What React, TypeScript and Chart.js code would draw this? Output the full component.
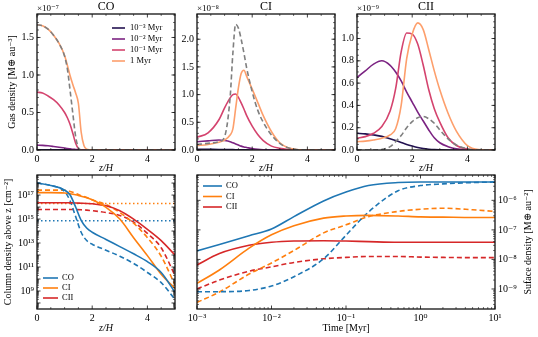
import React, { useEffect, useRef } from "react";
import { Chart, registerables } from "chart.js";

Chart.register(...registerables);

const W = 538;
const H = 337;
const SERIF = "'Liberation Serif', 'DejaVu Serif', 'Times New Roman', serif";

// ---------------- Data ----------------
// Top row: gas density vs z/H
const Z_CO = [0, 0.2, 0.4, 0.6, 0.8, 1.0, 1.1, 1.2, 1.3, 1.4, 1.5, 1.6, 1.7, 1.8, 2.0, 3.0, 5.0];
const CO_GAS_1E3 = [0.004, 0.004, 0.004, 0.003, 0.003, 0.002, 0.002, 0.001, 0.001, 0.001, 0, 0, 0, 0, 0, 0, 0];
const CO_GAS_1E2 = [0.065, 0.062, 0.056, 0.047, 0.037, 0.027, 0.021, 0.016, 0.011, 0.007, 0.003, 0.001, 0, 0, 0, 0, 0];
const CO_GAS_1E1 = [0.77, 0.76, 0.72, 0.67, 0.6, 0.5, 0.43, 0.34, 0.22, 0.09, 0.02, 0.003, 0, 0, 0, 0, 0];
const CO_GAS_1 = [1.67, 1.655, 1.61, 1.53, 1.42, 1.26, 1.13, 0.99, 0.87, 0.76, 0.62, 0.24, 0.06, 0.01, 0, 0, 0];
const CO_GAS_REF = [1.67, 1.655, 1.61, 1.53, 1.42, 1.25, 1.08, 0.79, 0.48, 0.18, 0.03, 0, 0, 0, 0, 0, 0];

const Z_CI = [0, 0.4, 0.8, 1.0, 1.2, 1.3, 1.4, 1.5, 1.6, 1.7, 1.8, 2.0, 2.2, 2.4, 2.7, 3.0, 3.3, 3.6, 4.0, 5.0];
const CI_GAS_1E3 = [0.012, 0.011, 0.01, 0.009, 0.007, 0.006, 0.005, 0.004, 0.003, 0.003, 0.002, 0.001, 0, 0, 0, 0, 0, 0, 0, 0];
const CI_GAS_1E2 = [0.15, 0.165, 0.18, 0.17, 0.15, 0.13, 0.11, 0.09, 0.07, 0.055, 0.045, 0.025, 0.012, 0.005, 0.001, 0, 0, 0, 0, 0];
const CI_GAS_1E1 = [0.23, 0.31, 0.55, 0.76, 0.94, 1.0, 1.01, 0.95, 0.85, 0.74, 0.62, 0.43, 0.28, 0.17, 0.07, 0.03, 0.01, 0, 0, 0];
const CI_GAS_1 = [0.08, 0.1, 0.14, 0.18, 0.27, 0.38, 0.75, 1.12, 1.38, 1.44, 1.33, 1.1, 0.86, 0.62, 0.33, 0.13, 0.04, 0.01, 0, 0];
const CI_GAS_REF = [0.1, 0.12, 0.15, 0.24, 0.95, 1.75, 2.27, 2.2, 2.0, 1.75, 1.48, 1.05, 0.72, 0.5, 0.27, 0.12, 0.04, 0.01, 0, 0];

const Z_CII = [0, 0.3, 0.6, 0.9, 1.2, 1.4, 1.6, 1.8, 2.0, 2.2, 2.4, 2.6, 2.8, 3.0, 3.3, 3.6, 4.0, 4.4, 5.0];
const CII_GAS_1E3 = [0.15, 0.145, 0.135, 0.122, 0.1, 0.085, 0.068, 0.05, 0.035, 0.022, 0.013, 0.007, 0.003, 0.001, 0, 0, 0, 0, 0];
const CII_GAS_1E2 = [0.65, 0.71, 0.77, 0.8, 0.76, 0.7, 0.62, 0.52, 0.43, 0.34, 0.26, 0.18, 0.11, 0.065, 0.03, 0.01, 0.002, 0, 0];
const CII_GAS_1E1 = [0.105, 0.12, 0.15, 0.21, 0.35, 0.55, 0.88, 1.05, 1.04, 0.95, 0.76, 0.54, 0.37, 0.25, 0.11, 0.04, 0.008, 0, 0];
const CII_GAS_1 = [0.075, 0.08, 0.09, 0.105, 0.135, 0.19, 0.4, 0.82, 1.04, 1.14, 1.08, 0.9, 0.71, 0.54, 0.33, 0.17, 0.04, 0.005, 0];
const CII_GAS_REF = [0, 0, 0, 0.005, 0.03, 0.075, 0.13, 0.2, 0.255, 0.29, 0.3, 0.28, 0.24, 0.18, 0.1, 0.045, 0.01, 0, 0];

// Bottom-left: column density above z
const Z_COL = [0, 0.5, 1.0, 1.2, 1.4, 1.6, 1.8, 2.0, 2.5, 3.0, 3.5, 4.0, 4.5, 5.0];
const CO_COL = [1.0e18, 6.3e17, 2.6e17, 1.0e17, 1.0e16, 7.9e14, 1.8e14, 7.9e13, 2.0e13, 5.0e12, 1.26e12, 2.8e11, 3.5e10, 7.9e8];
const CO_COL_REF = [1.0e18, 6.3e17, 2.0e17, 3.2e16, 1.6e15, 7.9e13, 1.6e13, 7.9e12, 2.5e12, 7.9e11, 2.0e11, 3.5e10, 5.0e9, 2.0e8];
const CI_COL = [1.6e17, 1.6e17, 1.5e17, 1.3e17, 1.05e17, 7.9e16, 6.0e16, 4.0e16, 9.5e15, 1.0e15, 2.8e13, 8.9e11, 2.5e10, 1.6e9];
const CI_COL_REF = [2.6e17, 2.6e17, 2.5e17, 2.0e17, 1.4e17, 8.9e16, 6.3e16, 4.0e16, 1.6e16, 3.5e15, 4.5e14, 2.8e13, 7.9e11, 3.2e9];
const CII_COL = [2.3e16, 2.3e16, 2.3e16, 2.24e16, 2.2e16, 2.1e16, 2.0e16, 1.86e16, 1.26e16, 5.0e15, 1.0e15, 1.4e14, 1.6e13, 1.0e12];
const CII_COL_REF = [6.3e15, 6.3e15, 6.3e15, 6.3e15, 6.2e15, 5.9e15, 5.5e15, 5.0e15, 3.5e15, 2.0e15, 5.6e14, 6.3e13, 4.0e12, 2.0e10];
const Z_LIMIT = [0, 5];
const CO_LIMIT = [7.2e14, 7.2e14];
const CI_LIMIT = [2.0e16, 2.0e16];

// Bottom-right: surface density vs time
const TIME = [1e-3, 2e-3, 5e-3, 1e-2, 2e-2, 5e-2, 0.1, 0.2, 0.5, 1, 2, 5, 10];
const CO_SURF = [1.95e-8, 3.2e-8, 6.3e-8, 1.07e-7, 2.8e-7, 9.5e-7, 1.9e-6, 3.16e-6, 4.0e-6, 4.17e-6, 4.17e-6, 4.17e-6, 4.17e-6];
const CO_SURF_REF = [8.1e-10, 8.1e-10, 8.9e-10, 1.26e-9, 2.6e-9, 1.05e-8, 6.6e-8, 4.0e-7, 2.1e-6, 3.16e-6, 3.6e-6, 4.0e-6, 4.17e-6];
const CI_SURF = [1.55e-9, 4.4e-9, 2.4e-8, 6.8e-8, 1.38e-7, 2.5e-7, 2.95e-7, 3.1e-7, 2.95e-7, 2.75e-7, 2.7e-7, 2.63e-7, 2.63e-7];
const CI_SURF_REF = [3.5e-10, 7.9e-10, 3.2e-9, 7.6e-9, 2.0e-8, 7.9e-8, 1.48e-7, 2.8e-7, 4.2e-7, 5.0e-7, 5.4e-7, 4.8e-7, 4.2e-7];
const CII_SURF = [6.5e-9, 1.58e-8, 3.0e-8, 3.8e-8, 4.2e-8, 4.3e-8, 4.2e-8, 4.0e-8, 3.8e-8, 3.8e-8, 3.8e-8, 3.8e-8, 3.8e-8];
const CII_SURF_REF = [1.0e-9, 2.0e-9, 4.0e-9, 5.6e-9, 7.9e-9, 1.05e-8, 1.17e-8, 1.26e-8, 1.26e-8, 1.2e-8, 1.17e-8, 1.15e-8, 1.15e-8];

// Labels and ticks
const SPECIES = ["CO", "CI", "CII"];
const AGE_LABELS = ["10⁻³ Myr", "10⁻² Myr", "10⁻¹ Myr", "1 Myr"];
const ZH_TICKS = [0, 2, 4];
const CO_GAS_TICKS = [0, 0.5, 1.0, 1.5];
const CI_GAS_TICKS = [0, 0.5, 1.0, 1.5, 2.0];
const CII_GAS_TICKS = [0, 0.2, 0.4, 0.6, 0.8, 1.0];
const COL_TICKS = [1e9, 1e11, 1e13, 1e15, 1e17];
const TIME_TICKS = [1e-3, 1e-2, 1e-1, 1, 10];
const SURF_TICKS = [1e-9, 1e-8, 1e-7, 1e-6];

// ---------------- Styles ----------------
const AGE_COLORS = ["#221150", "#7b2382", "#d4436e", "#fd9f6c"];
const REF_COLOR = "#7f7f7f";
const SP_COLORS = ["#1f77b4", "#ff7f0e", "#d62728"];
const DASH = [5, 3];
const DOT = [1.5, 2.5];

const SUP: Record<string, string> = {
  "-": "⁻", "0": "⁰", "1": "¹", "2": "²", "3": "³", "4": "⁴", "5": "⁵", "6": "⁶", "7": "⁷", "8": "⁸", "9": "⁹",
};
const pow10 = (v: number) =>
  "10" + String(Math.round(Math.log10(v))).split("").map((c) => SUP[c] ?? c).join("");

function range(a: number, b: number, step: number) {
  const out: number[] = [];
  for (let v = a; v <= b + 1e-9; v += step) out.push(Math.round(v * 1000) / 1000);
  return out;
}
function logMinor(e0: number, e1: number) {
  const out: number[] = [];
  for (let e = e0; e <= e1; e++) for (let k = 2; k <= 9; k++) out.push(k * Math.pow(10, e));
  return out;
}
function logMajor(e0: number, e1: number) {
  const out: number[] = [];
  for (let e = e0; e <= e1; e++) out.push(Math.pow(10, e));
  return out;
}

function ds(xs: number[], ys: number[], color: string, dash: number[] = [], width = 1.6) {
  return {
    data: xs.map((x, i) => ({ x, y: ys[i] })),
    borderColor: color,
    backgroundColor: color,
    borderWidth: width,
    borderDash: dash,
    pointRadius: 0,
    pointHoverRadius: 0,
    fill: false,
    tension: 0.4,
    cubicInterpolationMode: "monotone",
  };
}

const TICK_FONT = { family: SERIF, size: 10 };

function axis(
  type: string,
  pos: string,
  min: number,
  max: number,
  tickVals: number[],
  fmt: ((v: number) => string) | null,
  size: number,
  title?: any
) {
  const horiz = pos === "bottom";
  return {
    type,
    position: pos,
    min,
    max,
    grid: { display: false, drawTicks: false },
    border: { display: false },
    ticks: {
      display: fmt !== null,
      autoSkip: false,
      maxRotation: 0,
      minRotation: 0,
      padding: 3,
      color: "#000",
      font: TICK_FONT,
      callback: (v: any) => (fmt ? fmt(Number(v)) : ""),
    },
    afterBuildTicks: (s: any) => {
      s.ticks = tickVals.map((v) => ({ value: v }));
    },
    afterFit: (s: any) => {
      if (horiz) s.height = size;
      else s.width = size;
    },
    title: title ?? { display: false },
  };
}

function atitle(text: string, italic: boolean, pad: { top: number; bottom: number }) {
  return {
    display: true,
    text,
    color: "#000",
    font: { family: SERIF, size: 10, style: italic ? "italic" : "normal" },
    padding: pad,
  };
}

type TickSpec = { id: string; horiz: boolean; major: number[]; minor: number[] };
type LegendSpec = { x: number; len: number; tx: number; y: number; dy: number; size: number; items: { label: string; color: string; dash?: number[] }[] };
type TextSpec = { text: string; x: number; y: number; size: number; align: CanvasTextAlign; rot?: number };
type Extras = { ticks: TickSpec[]; legend?: LegendSpec; texts: TextSpec[] };

function extras(cfg: Extras) {
  return {
    id: "extras",
    afterDraw(chart: any) {
      const ctx: CanvasRenderingContext2D = chart.ctx;
      const a = chart.chartArea;
      ctx.save();
      ctx.strokeStyle = "#111";
      ctx.setLineDash([]);
      const seg = (x1: number, y1: number, x2: number, y2: number) => {
        ctx.beginPath();
        ctx.moveTo(x1, y1);
        ctx.lineTo(x2, y2);
        ctx.stroke();
      };
      for (const t of cfg.ticks) {
        const s = chart.scales[t.id];
        const draw = (vals: number[], len: number, lw: number) => {
          ctx.lineWidth = lw;
          for (const v of vals) {
            if (v < s.min || v > s.max) continue;
            const p = s.getPixelForValue(v);
            if (t.horiz) {
              seg(p, a.bottom, p, a.bottom - len);
              seg(p, a.top, p, a.top + len);
            } else {
              seg(a.left, p, a.left + len, p);
              seg(a.right, p, a.right - len, p);
            }
          }
        };
        draw(t.major, 3.5, 0.8);
        draw(t.minor, 2, 0.6);
      }
      ctx.lineWidth = 1.3;
      ctx.strokeRect(a.left, a.top, a.right - a.left, a.bottom - a.top);

      if (cfg.legend) {
        const L = cfg.legend;
        L.items.forEach((it, i) => {
          const y = L.y + i * L.dy;
          ctx.strokeStyle = it.color;
          ctx.lineWidth = 1.6;
          ctx.setLineDash(it.dash ?? []);
          seg(L.x, y, L.x + L.len, y);
          ctx.setLineDash([]);
          ctx.fillStyle = "#000";
          ctx.font = `${L.size}px ${SERIF}`;
          ctx.textAlign = "left";
          ctx.textBaseline = "middle";
          ctx.fillText(it.label, L.tx, y);
        });
      }
      for (const t of cfg.texts) {
        ctx.save();
        ctx.translate(t.x, t.y);
        if (t.rot) ctx.rotate(t.rot);
        ctx.fillStyle = "#000";
        ctx.font = `${t.size}px ${SERIF}`;
        ctx.textAlign = t.align;
        ctx.textBaseline = "middle";
        ctx.fillText(t.text, 0, 0);
        ctx.restore();
      }
      ctx.restore();
    },
  };
}

type Area = { l: number; t: number; r: number; b: number };

function build(
  canvas: HTMLCanvasElement,
  area: Area,
  yW: number,
  xH: number,
  rW: number,
  datasets: any[],
  scales: any,
  ex: Extras
) {
  return new Chart(canvas, {
    type: "line",
    data: { datasets },
    options: {
      responsive: true,
      maintainAspectRatio: false,
      animation: false,
      devicePixelRatio: 1,
      events: [],
      layout: {
        padding: { left: area.l - yW, top: area.t, right: W - area.r - rW, bottom: H - area.b - xH },
      },
      plugins: { legend: { display: false }, tooltip: { enabled: false }, title: { display: false } },
      scales,
    },
    plugins: [extras(ex)],
  } as any);
}

const fmt1 = (v: number) => v.toFixed(1);
const fmtInt = (v: number) => String(v);

function topPanel(
  canvas: HTMLCanvasElement,
  area: Area,
  zs: number[],
  series: number[][],
  ref: number[],
  ymax: number,
  yTicks: number[],
  yMinorStep: number,
  title: string,
  offset: string,
  withYTitle: boolean,
  withLegend: boolean
) {
  const datasets = [
    ds(zs, ref, REF_COLOR, DASH),
    ds(zs, series[3], AGE_COLORS[3]),
    ds(zs, series[2], AGE_COLORS[2]),
    ds(zs, series[1], AGE_COLORS[1]),
    ds(zs, series[0], AGE_COLORS[0]),
  ];
  const yW = 37;
  const scales = {
    x: axis("linear", "bottom", 0, 5, ZH_TICKS, fmtInt, 25, atitle("z/H", true, { top: 0, bottom: 1 })),
    y: axis(
      "linear",
      "left",
      0,
      ymax,
      yTicks,
      fmt1,
      yW,
      withYTitle ? atitle("Gas density [M⊕ au⁻³]", false, { top: 6, bottom: 0 }) : undefined
    ),
  };
  const cx = (area.l + area.r) / 2;
  return build(canvas, area, yW, 25, 0, datasets, scales, {
    ticks: [
      { id: "x", horiz: true, major: ZH_TICKS, minor: range(0, 5, 0.5).filter((v) => !ZH_TICKS.includes(v)) },
      { id: "y", horiz: false, major: yTicks, minor: range(0, ymax, yMinorStep) },
    ],
    legend: withLegend
      ? {
          x: 112,
          len: 13,
          tx: 130,
          y: 28,
          dy: 11,
          size: 8.5,
          items: AGE_LABELS.map((label, i) => ({ label, color: AGE_COLORS[i] })),
        }
      : undefined,
    texts: [
      { text: title, x: cx, y: 7, size: 12, align: "center" },
      { text: offset, x: area.l, y: 8.5, size: 9, align: "left" },
    ],
  });
}

export default function App() {
  const refs = useRef<(HTMLCanvasElement | null)[]>([]);

  useEffect(() => {
    const c = refs.current;
    const charts: Chart[] = [];
    charts.push(
      topPanel(c[0]!, { l: 37, t: 14, r: 175, b: 150 }, Z_CO,
        [CO_GAS_1E3, CO_GAS_1E2, CO_GAS_1E1, CO_GAS_1], CO_GAS_REF, 1.813, CO_GAS_TICKS, 0.1,
        SPECIES[0], "×10⁻⁷", true, true)
    );
    charts.push(
      topPanel(c[1]!, { l: 197, t: 14, r: 335, b: 150 }, Z_CI,
        [CI_GAS_1E3, CI_GAS_1E2, CI_GAS_1E1, CI_GAS_1], CI_GAS_REF, 2.455, CI_GAS_TICKS, 0.1,
        SPECIES[1], "×10⁻⁸", false, false)
    );
    charts.push(
      topPanel(c[2]!, { l: 357, t: 14, r: 495, b: 150 }, Z_CII,
        [CII_GAS_1E3, CII_GAS_1E2, CII_GAS_1E1, CII_GAS_1], CII_GAS_REF, 1.22, CII_GAS_TICKS, 0.05,
        SPECIES[2], "×10⁻⁹", false, false)
    );

    // Bottom-left: column density
    {
      const area = { l: 37, t: 175, r: 175, b: 309 };
      const yW = 37;
      const datasets = [
        ds(Z_COL, CO_COL, SP_COLORS[0]),
        ds(Z_COL, CI_COL, SP_COLORS[1]),
        ds(Z_COL, CII_COL, SP_COLORS[2]),
        ds(Z_COL, CO_COL_REF, SP_COLORS[0], DASH),
        ds(Z_COL, CI_COL_REF, SP_COLORS[1], DASH),
        ds(Z_COL, CII_COL_REF, SP_COLORS[2], DASH),
        ds(Z_LIMIT, CO_LIMIT, SP_COLORS[0], DOT),
        ds(Z_LIMIT, CI_LIMIT, SP_COLORS[1], DOT),
      ];
      const scales = {
        x: axis("linear", "bottom", 0, 5, ZH_TICKS, fmtInt, 28, atitle("z/H", true, { top: 0, bottom: 3 })),
        y: axis("logarithmic", "left", 3.16e7, 4.7e18, COL_TICKS, pow10, yW,
          atitle("Column density above z [cm⁻²]", false, { top: 2.5, bottom: 0 })),
      };
      charts.push(
        build(c[3]!, area, yW, 28, 0, datasets, scales, {
          ticks: [
            { id: "x", horiz: true, major: ZH_TICKS, minor: range(0, 5, 0.5).filter((v) => !ZH_TICKS.includes(v)) },
            { id: "y", horiz: false, major: logMajor(7, 18), minor: logMinor(7, 18) },
          ],
          legend: {
            x: 43, len: 15, tx: 62, y: 278, dy: 10, size: 8.5,
            items: SPECIES.map((label, i) => ({ label, color: SP_COLORS[i] })),
          },
          texts: [],
        })
      );
    }

    // Bottom-right: surface density vs time
    {
      const area = { l: 197, t: 175, r: 495, b: 309 };
      const rW = 43;
      const datasets = [
        ds(TIME, CO_SURF, SP_COLORS[0]),
        ds(TIME, CI_SURF, SP_COLORS[1]),
        ds(TIME, CII_SURF, SP_COLORS[2]),
        ds(TIME, CO_SURF_REF, SP_COLORS[0], DASH),
        ds(TIME, CI_SURF_REF, SP_COLORS[1], DASH),
        ds(TIME, CII_SURF_REF, SP_COLORS[2], DASH),
      ];
      const scales = {
        x: axis("logarithmic", "bottom", 1e-3, 10, TIME_TICKS, pow10, 28, atitle("Time [Myr]", false, { top: 0, bottom: 3 })),
        y: axis("logarithmic", "right", 2.1e-10, 7.2e-6, SURF_TICKS, pow10, rW),
      };
      charts.push(
        build(c[4]!, area, 0, 28, rW, datasets, scales, {
          ticks: [
            { id: "x", horiz: true, major: logMajor(-3, 1), minor: logMinor(-3, 0) },
            { id: "y", horiz: false, major: logMajor(-10, -5), minor: logMinor(-10, -6) },
          ],
          legend: {
            x: 203, len: 19, tx: 226, y: 186, dy: 10.5, size: 8.5,
            items: SPECIES.map((label, i) => ({ label, color: SP_COLORS[i] })),
          },
          texts: [
            { text: "Suface density [M⊕ au⁻²]", x: 528, y: 242, size: 10, align: "center", rot: -Math.PI / 2 },
          ],
        })
      );
    }

    return () => charts.forEach((ch) => ch.destroy());
  }, []);

  return (
    <div style={{ position: "absolute", left: 0, top: 0, width: W, height: H, background: "#fff", overflow: "hidden" }}>
      {[0, 1, 2, 3, 4].map((i) => (
        <div key={i} style={{ position: "absolute", left: 0, top: 0, width: W, height: H }}>
          <canvas ref={(el) => { refs.current[i] = el; }} />
        </div>
      ))}
    </div>
  );
}
